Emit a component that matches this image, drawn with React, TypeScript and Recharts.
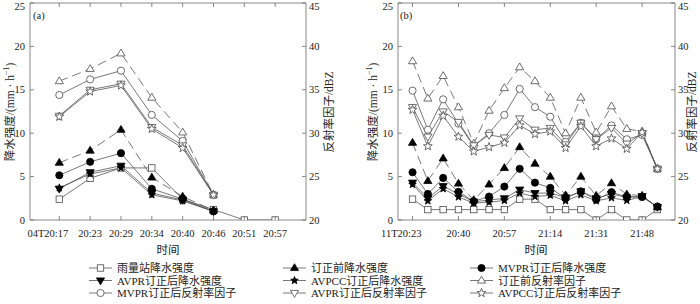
import React from 'react';
import { LineChart, Line, XAxis, YAxis } from 'recharts';

const FONT = "'Liberation Serif', 'Noto Sans CJK SC', serif";
const AXIS_COLOR = '#6a6a6a';
const LINE_COLOR = '#555555';
const TEXT_COLOR = '#222222';

// ---------- Panel (a) ----------
const timesA = ['04T20:17', '20:23', '20:29', '20:34', '20:40', '20:46', '20:51', '20:57'];
const gaugeA = [2.4, 4.8, 6.0, 6.0, 2.4, 1.2, 0, 0];
const rawRainA = [6.6, 8.0, 10.4, 4.9, 2.7, 1.1, null, null];
const mvprRainA = [5.15, 6.7, 7.7, 3.6, 2.4, 1.0, null, null];
const avprRainA = [3.6, 5.5, 6.25, 3.1, 2.3, 1.0, null, null];
const avpccRainA = [3.7, 5.3, 6.0, 2.9, 2.2, 1.0, null, null];
const rawRefA = [36.0, 37.4, 39.2, 34.1, 30.1, 22.9, null, null];
const mvprRefA = [34.4, 36.2, 37.2, 32.1, 29.1, 22.9, null, null];
const avprRefA = [32.0, 35.0, 35.7, 30.7, 28.6, 22.9, null, null];
const avpccRefA = [31.9, 34.8, 35.5, 30.5, 28.3, 22.9, null, null];

// ---------- Panel (b) ----------
const tickIdxB = [0, 3, 6, 9, 12, 15];
const tickLabelsB = ['11T20:23', '20:40', '20:57', '21:14', '21:31', '21:48'];
const gaugeB = [2.4, 1.2, 1.2, 1.2, 1.2, 1.2, 1.2, 2.4, 2.4, 1.2, 1.2, 1.2, 0, 1.2, 0, 0, 1.2];
const rawRainB = [8.9, 4.5, 7.1, 4.2, 2.3, 4.1, 6.0, 8.4, 6.5, 5.0, 2.85, 5.0, 2.8, 4.25, 2.95, 2.8, 1.5];
const mvprRainB = [5.5, 3.0, 4.85, 3.25, 2.15, 2.7, 3.85, 5.9, 4.3, 3.7, 2.5, 3.3, 2.35, 3.2, 2.65, 2.65, 1.55];
const avprRainB = [4.3, 2.5, 3.9, 3.0, 2.1, 2.3, 2.5, 3.5, 3.1, 3.1, 2.6, 3.3, 2.5, 3.0, 2.6, 2.75, 1.5];
const avpccRainB = [4.1, 2.2, 3.6, 2.65, 1.95, 2.05, 2.25, 3.1, 2.7, 2.85, 2.2, 2.9, 2.2, 2.55, 2.25, 2.7, 1.5];
const rawRefB = [38.3, 34.0, 36.6, 33.0, 28.8, 32.6, 35.2, 37.6, 36.0, 34.1, 30.0, 34.1, 30.1, 33.1, 30.5, 30.2, 25.9];
const mvprRefB = [34.9, 30.4, 33.9, 31.1, 28.5, 30.0, 32.1, 35.1, 33.0, 31.9, 29.0, 31.2, 29.3, 30.9, 29.3, 29.8, 25.9];
const avprRefB = [33.0, 29.6, 32.5, 31.3, 28.6, 29.8, 29.5, 31.7, 30.4, 30.6, 28.7, 31.2, 29.3, 30.6, 28.8, 30.0, 25.9];
const avpccRefB = [32.7, 28.5, 32.0, 29.6, 27.9, 28.4, 28.9, 30.9, 29.9, 30.2, 28.3, 30.8, 28.5, 29.4, 28.2, 30.1, 25.9];

const rainTicks = [0, 5, 10, 15, 20, 25];
const refTicks = [20, 25, 30, 35, 40, 45];

type Shape = 'square' | 'triUp' | 'triDown' | 'circle' | 'star';
interface SeriesDef {
  key: string;
  name: string;
  shape: Shape;
  filled: boolean;
  dashed: boolean;
  axis: 'left' | 'right';
}

const seriesDefs: SeriesDef[] = [
  { key: 'gauge', name: '雨量站降水强度', shape: 'square', filled: false, dashed: false, axis: 'left' },
  { key: 'rawRain', name: '订正前降水强度', shape: 'triUp', filled: true, dashed: true, axis: 'left' },
  { key: 'mvprRain', name: 'MVPR订正后降水强度', shape: 'circle', filled: true, dashed: false, axis: 'left' },
  { key: 'avprRain', name: 'AVPR订正后降水强度', shape: 'triDown', filled: true, dashed: false, axis: 'left' },
  { key: 'avpccRain', name: 'AVPCC订正后降水强度', shape: 'star', filled: true, dashed: false, axis: 'left' },
  { key: 'rawRef', name: '订正前反射率因子', shape: 'triUp', filled: false, dashed: true, axis: 'right' },
  { key: 'mvprRef', name: 'MVPR订正后反射率因子', shape: 'circle', filled: false, dashed: false, axis: 'right' },
  { key: 'avprRef', name: 'AVPR订正后反射率因子', shape: 'triDown', filled: false, dashed: false, axis: 'right' },
  { key: 'avpccRef', name: 'AVPCC订正后反射率因子', shape: 'star', filled: false, dashed: false, axis: 'right' },
];

function buildRows(n: number, cols: Record<string, (number | null)[]>) {
  const rows: any[] = [];
  for (let i = 0; i < n; i++) {
    const r: any = { x: i };
    Object.keys(cols).forEach((k) => {
      r[k] = cols[k][i];
    });
    rows.push(r);
  }
  return rows;
}

const dataA = buildRows(timesA.length, {
  gauge: gaugeA, rawRain: rawRainA, mvprRain: mvprRainA, avprRain: avprRainA, avpccRain: avpccRainA,
  rawRef: rawRefA, mvprRef: mvprRefA, avprRef: avprRefA, avpccRef: avpccRefA,
});
const dataB = buildRows(gaugeB.length, {
  gauge: gaugeB, rawRain: rawRainB, mvprRain: mvprRainB, avprRain: avprRainB, avpccRain: avpccRainB,
  rawRef: rawRefB, mvprRef: mvprRefB, avprRef: avprRefB, avpccRef: avpccRefB,
});

function starPoints(cx: number, cy: number, R: number, r: number) {
  const pts: string[] = [];
  for (let i = 0; i < 10; i++) {
    const rad = i % 2 === 0 ? R : r;
    const a = -Math.PI / 2 + (i * Math.PI) / 5;
    pts.push(`${(cx + rad * Math.cos(a)).toFixed(2)},${(cy + rad * Math.sin(a)).toFixed(2)}`);
  }
  return pts.join(' ');
}

function Marker({ shape, filled, cx, cy }: { shape: Shape; filled: boolean; cx: number; cy: number }) {
  const fill = filled ? '#000' : '#fff';
  const stroke = filled ? '#000' : '#4a4a4a';
  const sw = 0.8;
  switch (shape) {
    case 'square':
      return <rect x={cx - 3.2} y={cy - 3.2} width={6.4} height={6.4} fill={fill} stroke={stroke} strokeWidth={sw} />;
    case 'circle':
      return <circle cx={cx} cy={cy} r={3.6} fill={fill} stroke={stroke} strokeWidth={sw} />;
    case 'triUp': {
      const s = 4.3;
      return (
        <polygon
          points={`${cx},${cy - s} ${cx + s * 0.95},${cy + s * 0.6} ${cx - s * 0.95},${cy + s * 0.6}`}
          fill={fill} stroke={stroke} strokeWidth={sw}
        />
      );
    }
    case 'triDown': {
      const s = 4.3;
      return (
        <polygon
          points={`${cx},${cy + s} ${cx + s * 0.95},${cy - s * 0.6} ${cx - s * 0.95},${cy - s * 0.6}`}
          fill={fill} stroke={stroke} strokeWidth={sw}
        />
      );
    }
    case 'star':
    default:
      return (
        <polygon
          points={filled ? starPoints(cx, cy, 4.0, 1.7) : starPoints(cx, cy, 4.6, 1.9)}
          fill={fill} stroke={stroke} strokeWidth={sw}
        />
      );
  }
}

const tickText = { fontSize: 10.5, fontFamily: FONT, fill: TEXT_COLOR };
const MIN_LABEL_Y = 6;

function leftTick(props: any) {
  const { x, y, payload } = props;
  return (
    <g>
      <line x1={x} x2={x + 4} y1={y} y2={y} stroke={AXIS_COLOR} strokeWidth={0.8} />
      <text x={x - 5} y={Math.max(y, MIN_LABEL_Y)} textAnchor="end" dominantBaseline="central" {...tickText}>
        {payload.value}
      </text>
    </g>
  );
}

function rightTick(props: any) {
  const { x, y, payload } = props;
  return (
    <g>
      <line x1={x} x2={x - 4} y1={y} y2={y} stroke={AXIS_COLOR} strokeWidth={0.8} />
      <text x={x + 3} y={Math.max(y, MIN_LABEL_Y)} textAnchor="start" dominantBaseline="central" {...tickText}>
        {payload.value}
      </text>
    </g>
  );
}

function topTick(props: any) {
  const { x, y } = props;
  return (
    <g>
      <line x1={x} x2={x} y1={y} y2={y + 4} stroke={AXIS_COLOR} strokeWidth={0.8} />
    </g>
  );
}

function makeBottomTick(labelOf: (v: number) => string) {
  return (props: any) => {
    const { x, y, payload } = props;
    const first = payload.value === 0;
    return (
      <g>
        <line x1={x} x2={x} y1={y} y2={y - 4} stroke={AXIS_COLOR} strokeWidth={0.8} />
        <text
          x={first ? x + 9 : x}
          y={y + 13}
          textAnchor={first ? 'end' : 'middle'}
          dominantBaseline="central"
          {...tickText}
        >
          {labelOf(payload.value)}
        </text>
      </g>
    );
  };
}

interface PanelProps {
  data: any[];
  domain: [number, number];
  ticks: number[];
  labelOf: (v: number) => string;
  leftW: number;
  rightW: number;
}

function Panel({ data, domain, ticks, labelOf, leftW, rightW }: PanelProps) {
  const axisLine = { stroke: AXIS_COLOR, strokeWidth: 0.8 };
  return (
    <LineChart width={350} height={240} data={data} margin={{ top: 1, right: 0, bottom: 0, left: 0 }}>
      <XAxis
        dataKey="x" type="number" domain={domain} ticks={ticks} interval={0} height={20}
        tickSize={0} tickMargin={0} axisLine={axisLine} tick={makeBottomTick(labelOf)} allowDataOverflow
      />
      <XAxis
        xAxisId="top" orientation="top" dataKey="x" type="number" domain={domain} ticks={ticks} interval={0}
        height={2} tickSize={0} tickMargin={0} axisLine={axisLine} tick={topTick} allowDataOverflow
      />
      <YAxis
        yAxisId="left" type="number" domain={[0, 25]} ticks={rainTicks} interval={0} width={leftW}
        tickSize={0} tickMargin={0} axisLine={axisLine} tick={leftTick} allowDataOverflow
      />
      <YAxis
        yAxisId="right" orientation="right" type="number" domain={[20, 45]} ticks={refTicks} interval={0}
        width={rightW} tickSize={0} tickMargin={0} axisLine={axisLine} tick={rightTick} allowDataOverflow
      />
      {seriesDefs.map((s) => (
        <Line
          key={s.key}
          yAxisId={s.axis}
          dataKey={s.key}
          name={s.name}
          type="linear"
          stroke={LINE_COLOR}
          strokeWidth={0.8}
          strokeDasharray={s.dashed ? '9 5' : undefined}
          connectNulls={false}
          isAnimationActive={false}
          activeDot={false}
          dot={(p: any) => {
            if (p.cx == null || p.cy == null || p.value == null || (Array.isArray(p.value) && p.value[1] == null)) {
              return <g key={`${s.key}-${p.index}`} />;
            }
            return (
              <g key={`${s.key}-${p.index}`}>
                <Marker shape={s.shape} filled={s.filled} cx={p.cx} cy={p.cy} />
              </g>
            );
          }}
        />
      ))}
    </LineChart>
  );
}

const legendCols = [89, 283, 470];
const legendRows = [268, 280.5, 293];

function Overlay() {
  const titleStyle = { fontSize: 11.5, fontFamily: FONT, fill: TEXT_COLOR };
  const rainTitle = (cx: number, cy: number) => (
    <text x={cx} y={cy} transform={`rotate(-90 ${cx} ${cy})`} textAnchor="middle" dominantBaseline="central" {...titleStyle}>
      降水强度/(mm · h<tspan fontSize={8} dy={-4}>−1</tspan><tspan dy={4}>)</tspan>
    </text>
  );
  const refTitle = (cx: number, cy: number) => (
    <text x={cx} y={cy} transform={`rotate(-90 ${cx} ${cy})`} textAnchor="middle" dominantBaseline="central" {...titleStyle}>
      反射率因子/dBZ
    </text>
  );
  return (
    <svg width={700} height={304} style={{ position: 'absolute', left: 0, top: 0, pointerEvents: 'none' }}>
      <text x={33} y={15} dominantBaseline="central" {...tickText}>(a)</text>
      <text x={400} y={15} dominantBaseline="central" {...tickText}>(b)</text>
      {rainTitle(10, 112)}
      {refTitle(329, 112)}
      {rainTitle(373, 112)}
      {refTitle(692, 112)}
      <text x={168} y={250} textAnchor="middle" dominantBaseline="central" {...titleStyle}>时间</text>
      <text x={536} y={250} textAnchor="middle" dominantBaseline="central" {...titleStyle}>时间</text>
      {seriesDefs.map((s, i) => {
        const lx = legendCols[i % 3];
        const ly = legendRows[Math.floor(i / 3)];
        return (
          <g key={s.key}>
            <line x1={lx} x2={lx + 23} y1={ly} y2={ly} stroke={LINE_COLOR} strokeWidth={0.8}
              strokeDasharray={s.dashed ? '9 5' : undefined} />
            <Marker shape={s.shape} filled={s.filled} cx={lx + 11.5} cy={ly} />
            <text x={lx + 28} y={ly} dominantBaseline="central" fontSize={11} fontFamily={FONT} fill={TEXT_COLOR}>
              {s.name}
            </text>
          </g>
        );
      })}
    </svg>
  );
}

export default function App() {
  return (
    <div style={{ position: 'absolute', left: 0, top: 0, width: 700, height: 304, background: '#fff', overflow: 'hidden' }}>
      <div style={{ position: 'absolute', left: 0, top: 0 }}>
        <Panel
          data={dataA}
          domain={[-0.95, 8.0]}
          ticks={timesA.map((_, i) => i)}
          labelOf={(v) => timesA[v] ?? ''}
          leftW={30}
          rightW={44}
        />
      </div>
      <div style={{ position: 'absolute', left: 350, top: 0 }}>
        <Panel
          data={dataB}
          domain={[-0.95, 17.15]}
          ticks={tickIdxB}
          labelOf={(v) => tickLabelsB[tickIdxB.indexOf(v)] ?? ''}
          leftW={48}
          rightW={25}
        />
      </div>
      <Overlay />
    </div>
  );
}
